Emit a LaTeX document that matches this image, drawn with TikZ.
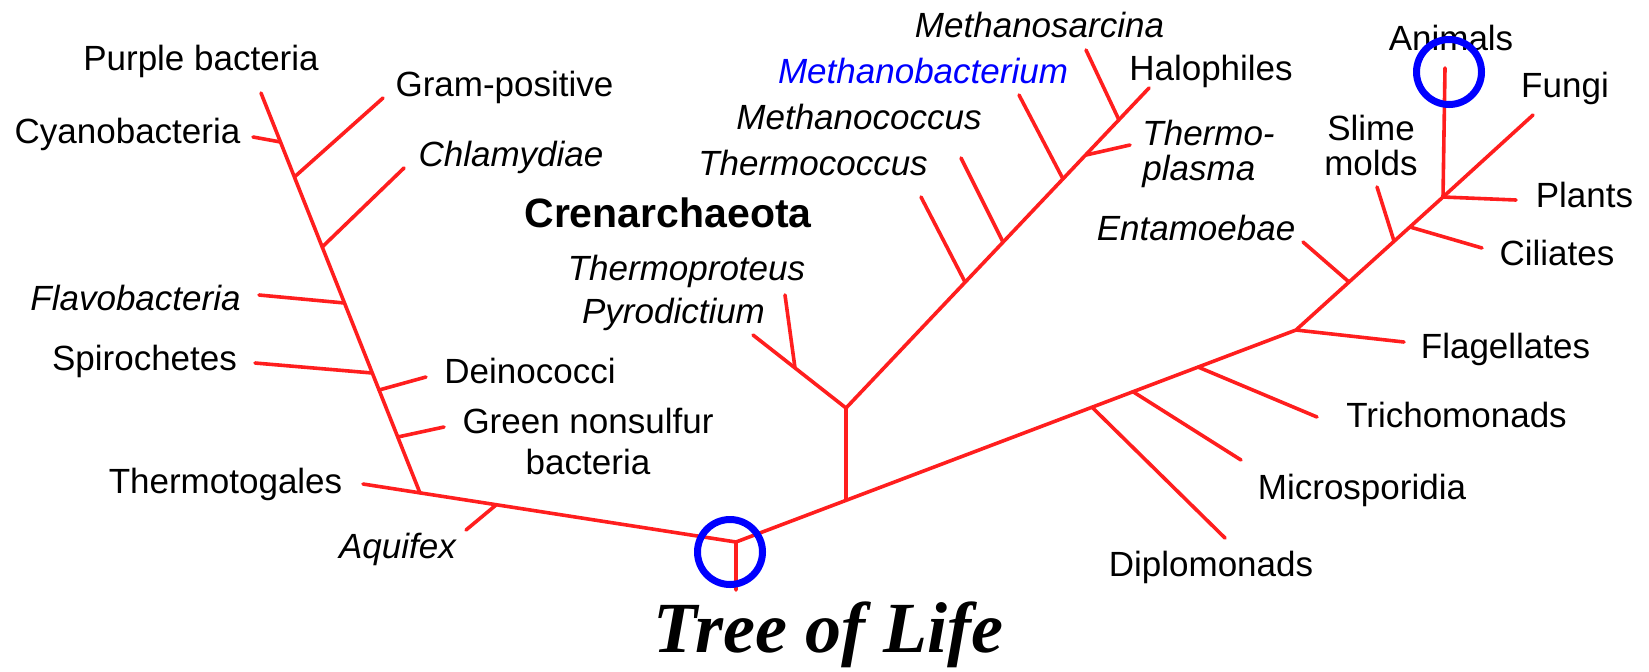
\documentclass[tikz,border=0pt]{standalone}
\usepackage{fontspec}
\setmainfont{Liberation Sans}
\newfontfamily\tituloFont{Liberation Serif}
\usepackage{tikz}
\definecolor{RamaRed}{RGB}{255,30,30}
\definecolor{MarcaBlue}{RGB}{0,0,255}

\begin{document}
\begin{tikzpicture}[x=0.5pt, y=-0.5pt,
	rama/.style={draw=RamaRed, line width=1.8pt, line cap=round, line join=round},
	marca/.style={draw=MarcaBlue, line width=3.5pt},
	etiq/.style={inner sep=0pt, anchor=base, font=\fontsize{17.5}{21}\selectfont},
	etiqit/.style={etiq, font=\fontsize{17.5}{21}\selectfont\itshape}]
	\useasboundingbox (0,0) rectangle (1649,671);
	% raiz y tronco
	\coordinate (raiz) at (736,542);
	\coordinate (raizpie) at (736,590);
	\coordinate (ethermo) at (363,484);
	\coordinate (bbase) at (420,493);
	\coordinate (btop) at (261,93);
	% bacterias: uniones sobre el tallo y extremos
	\foreach \nm/\jx/\jy/\ex/\ey in {cyano/280.5/142/253/137, gram/294.4/177/383/98,
		chlam/322.2/247/404/168, flavo/344.5/303/259/295, spiro/372.3/373/255/363,
		deino/379.1/390/426/377, green/397.7/437/444/427, aquif/496/505/466/530}{
		\coordinate (j\nm) at (\jx,\jy);
		\coordinate (e\nm) at (\ex,\ey);
	}
	% arqueas
	\coordinate (jcren0) at (846,500);
	\coordinate (jcren) at (846,408);
	\coordinate (jpyro) at (795,368);
	\coordinate (epyro) at (753,335);
	\coordinate (etprot) at (785,295);
	\coordinate (ehalo) at (1149,88);
	\foreach \nm/\jx/\jy/\ex/\ey in {tcoc/965/282/921/197, mcoc/1003/242/961/158,
		mbact/1063/179/1019/95, tplas/1086/155/1130/145, msarc/1119/120/1086/50}{
		\coordinate (j\nm) at (\jx,\jy);
		\coordinate (e\nm) at (\ex,\ey);
	}
	% eucariotas
	\coordinate (jflag) at (1296,330);
	\coordinate (jtop) at (1443,197);
	\foreach \nm/\jx/\jy/\ex/\ey in {diplo/1092/407.2/1225/538, micro/1133/391.7/1241/460,
		tricho/1198/367/1317/417, flag/1296/330/1404/342, ento/1349/282/1303/242,
		slime/1394/241/1377/187, cili/1410/227/1482/248, anim/1443/197/1445/68,
		fungi/1443/197/1533/115, plant/1443/197/1516/200}{
		\coordinate (j\nm) at (\jx,\jy);
		\coordinate (e\nm) at (\ex,\ey);
	}

	% ramas
	\draw[rama] (raizpie) -- (raiz) -- (ethermo);
	\draw[rama] (bbase) -- (btop);
	\draw[rama] (raiz) -- (jflag) -- (jtop);
	\draw[rama] (jcren0) -- (jcren) -- (ehalo);
	\draw[rama] (jcren) -- (epyro);
	\draw[rama] (jpyro) -- (etprot);
	\foreach \nm in {cyano, gram, chlam, flavo, spiro, deino, green, aquif,
		tcoc, mcoc, mbact, tplas, msarc,
		diplo, micro, tricho, flag, ento, slime, cili, anim, fungi, plant}{
		\draw[rama] (j\nm) -- (e\nm);
	}

	% etiquetas
	\foreach \nm/\x/\y/\txt in {tpurple/201/70/Purple bacteria, tgram/504.5/96/Gram-positive,
		tcyano/127.5/143/Cyanobacteria, tspiro/144.5/370/Spirochetes, tdeino/530/383/Deinococci,
		tthermo/225.5/493/Thermotogales, thalo/1211/80/Halophiles, tanim/1451/50/Animals,
		tfungi/1565/97/Fungi, tplant/1584.5/207/Plants, tcili/1557/265/Ciliates,
		tflag/1505.5/358/Flagellates, ttricho/1456.5/427/Trichomonads,
		tmicro/1362/499/Microsporidia, tdiplo/1211/576/Diplomonads}{
		\node[etiq] (\nm) at (\x,\y) {\txt};
	}
	\foreach \nm/\x/\y/\txt in {tchlam/511/166/Chlamydiae, tflavo/135.5/310/Flavobacteria,
		taquif/397.5/558/Aquifex, tmsarc/1039.5/37/Methanosarcina, tmcoc/859/129/Methanococcus,
		ttcoc/813/175/Thermococcus, ttprot/686.5/280/Thermoproteus, tpyro/673.5/323/Pyrodictium,
		tento/1196/240/Entamoebae}{
		\node[etiqit] (\nm) at (\x,\y) {\txt};
	}
	\node[etiqit, text=MarcaBlue] (tmbact) at (923,83) {Methanobacterium};
	\node[etiq, font=\fontsize{20.5}{24}\selectfont\bfseries] (tcren) at (668,227) {Crenarchaeota};
	\node[etiq, anchor=north, align=center, font=\fontsize{17.5}{20.5}\selectfont] (tgreen) at (588,407.5) {Green nonsulfur\\bacteria};
	\node[etiq, anchor=north west, align=left, font=\fontsize{17.5}{17.5}\selectfont\itshape] (ttplas) at (1142,119.5) {Thermo-\\plasma};
	\node[etiq, anchor=north, align=center, font=\fontsize{17.5}{17.5}\selectfont] (tslime) at (1371,114.5) {Slime\\molds};
	\node[etiq, font=\tituloFont\fontsize{36}{40}\selectfont\bfseries\itshape] (titulo) at (828.5,652) {Tree of Life};

	% marcas azules
	\draw[marca] (730,552) circle[radius=32.5];
	\draw[marca] (1449,72) circle[radius=32.5];
\end{tikzpicture}
\end{document}
